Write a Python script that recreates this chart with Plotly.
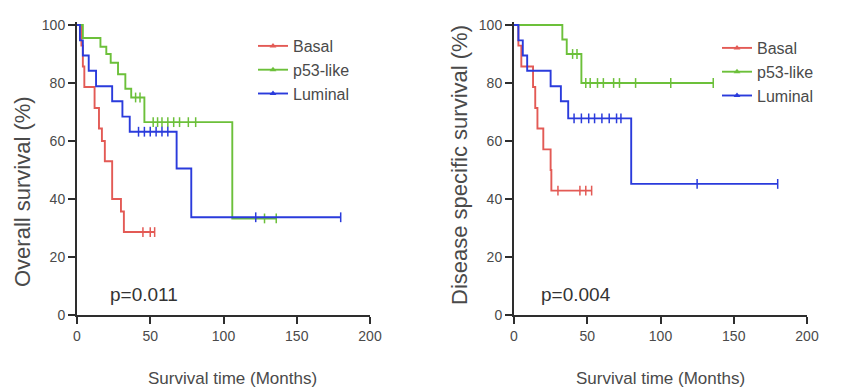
import plotly.graph_objects as go

# ---------------- data ----------------
groups = ["Basal", "p53-like", "Luminal"]
colors = ["#e35a55", "#6cc03a", "#2a3bdc"]

x_ticks = [0, 50, 100, 150, 200]
y_ticks = [0, 20, 40, 60, 80, 100]

# Overall survival (left panel)
basal_os_t = [0, 3, 4, 5, 12, 15, 17, 19, 24, 30, 32]
basal_os_s = [100, 92.9, 85.7, 78.6, 71.4, 64.3, 60, 53, 40, 35.7, 28.6]
basal_os_cens = [45, 50, 53]

p53_os_t = [0, 4, 16, 20, 23, 28, 33, 37, 46, 106]
p53_os_s = [100, 95.5, 92.5, 90, 87, 83, 78, 75, 66.5, 33.3]
p53_os_cens = [40, 43, 52, 55, 58, 62, 66, 70, 76, 81, 128, 136]

lum_os_t = [0, 2, 4, 8, 13, 24, 31, 36, 68, 78]
lum_os_s = [100, 94.7, 89.5, 84.2, 78.9, 73.7, 68.4, 63.2, 50.5, 33.7]
lum_os_cens = [42, 46, 50, 54, 58, 62, 122, 180]

# Disease specific survival (right panel)
basal_dss_t = [0, 3, 5, 13, 14.5, 16, 20, 25, 25.5]
basal_dss_s = [100, 92.9, 85.7, 78.6, 71.4, 64.3, 57.1, 50, 42.9]
basal_dss_cens = [30, 45, 49, 53]

p53_dss_t = [0, 33, 36, 46]
p53_dss_s = [100, 95, 90, 80]
p53_dss_cens = [40, 43, 49, 52, 57, 61, 68, 72, 83, 107, 136]

lum_dss_t = [0, 3, 6, 9, 25, 32, 37, 80]
lum_dss_s = [100, 94.7, 89.5, 84.2, 78.9, 73.7, 67.8, 45.2]
lum_dss_cens = [41, 46, 51, 55, 60, 65, 70, 73, 125, 180]

p_values = ["p=0.011", "p=0.004"]
y_titles = ["Overall survival (%)", "Disease specific survival (%)"]
x_title = "Survival time (Months)"

panels = [
    [(basal_os_t, basal_os_s, basal_os_cens),
     (p53_os_t, p53_os_s, p53_os_cens),
     (lum_os_t, lum_os_s, lum_os_cens)],
    [(basal_dss_t, basal_dss_s, basal_dss_cens),
     (p53_dss_t, p53_dss_s, p53_dss_cens),
     (lum_dss_t, lum_dss_s, lum_dss_cens)],
]

# ---------------- figure ----------------
FONT = "Liberation Sans, Arial, sans-serif"
TXT = "#4a4a4a"
AX = "#2e2e2e"

# the page body has an 8px margin; lay out in window pixels
OFF = 8
W, H = 849 - OFF, 392 - OFF


def px(x):
    return (x - OFF) / W


def py(y):
    return 1 - (y - OFF) / H


def surv_at(times, surv, t):
    v = surv[0]
    for ti, si in zip(times, surv):
        if ti <= t:
            v = si
    return v


fig = go.Figure()
for p, panel in enumerate(panels):
    xa = "x" if p == 0 else "x2"
    ya = "y" if p == 0 else "y2"
    leg = "legend" if p == 0 else "legend2"
    for g, (t, s, cens) in enumerate(panel):
        end = max(cens + [t[-1]])
        xs = list(t) + [end]
        ys = list(s) + [s[-1]]
        fig.add_trace(go.Scatter(
            x=xs, y=ys, mode="lines", line=dict(color=colors[g], width=1.9, shape="hv"),
            xaxis=xa, yaxis=ya, showlegend=False, hoverinfo="skip"))
        fig.add_trace(go.Scatter(
            x=cens, y=[surv_at(t, s, c) for c in cens], mode="markers",
            marker=dict(symbol="line-ns-open", size=7, color=colors[g],
                        line=dict(color=colors[g], width=1.5)),
            xaxis=xa, yaxis=ya, showlegend=False, hoverinfo="skip"))
        # legend entry
        fig.add_trace(go.Scatter(
            x=[None], y=[None], mode="lines+markers", name=groups[g],
            line=dict(color=colors[g], width=1.9),
            marker=dict(symbol="triangle-up", size=6, color=colors[g]),
            xaxis=xa, yaxis=ya, legend=leg))

axis_common = dict(
    showline=True, linecolor=AX, linewidth=2, ticks="outside", ticklen=7,
    tickwidth=2, tickcolor=AX, showgrid=False, zeroline=False, automargin=False,
    tickfont=dict(family=FONT, size=14, color=TXT), mirror=False,
)

ydom = [py(315), py(22.1)]
fig.update_layout(
    width=W, height=H,
    margin=dict(l=0, r=0, t=0, b=0),
    plot_bgcolor="white", paper_bgcolor="white",
    xaxis=dict(domain=[px(77), px(370)], range=[0, 200], tickvals=x_ticks, anchor="y", **axis_common),
    yaxis=dict(domain=ydom, range=[0, 101], tickvals=y_ticks, anchor="x", **axis_common),
    xaxis2=dict(domain=[px(514), px(807)], range=[0, 200], tickvals=x_ticks, anchor="y2", **axis_common),
    yaxis2=dict(domain=ydom, range=[0, 101], tickvals=y_ticks, anchor="x2", **axis_common),
    legend=dict(x=px(253), y=py(29), xanchor="left", yanchor="top",
                font=dict(family=FONT, size=16, color=TXT), itemwidth=30,
                bgcolor="rgba(0,0,0,0)", tracegroupgap=0),
    legend2=dict(x=px(717), y=py(31), xanchor="left", yanchor="top",
                 font=dict(family=FONT, size=16, color=TXT), itemwidth=30,
                 bgcolor="rgba(0,0,0,0)", tracegroupgap=0),
    showlegend=True,
)

annotations = []
for p, (xc, yt_x) in enumerate([(232, 22), (660, 459)]):
    annotations.append(dict(text=x_title, x=px(xc), y=py(378), xref="paper", yref="paper",
                            showarrow=False, xanchor="center", yanchor="middle",
                            font=dict(family=FONT, size=17, color=TXT)))
    annotations.append(dict(text=y_titles[p], x=px(yt_x), y=py(192 if p == 0 else 165),
                            xref="paper", yref="paper", showarrow=False, textangle=-90,
                            xanchor="center", yanchor="middle",
                            font=dict(family=FONT, size=22, color=TXT)))
for p, xc in enumerate([144, 576]):
    annotations.append(dict(text=p_values[p], x=px(xc), y=py(294), xref="paper", yref="paper",
                            showarrow=False, xanchor="center", yanchor="middle",
                            font=dict(family=FONT, size=19, color="#333333")))
fig.update_layout(annotations=annotations)

fig.write_html("out.html")
